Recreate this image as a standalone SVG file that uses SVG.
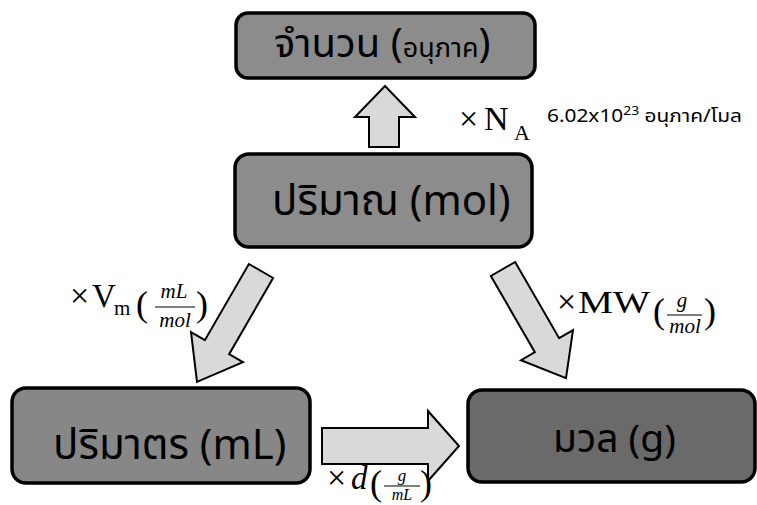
<svg xmlns="http://www.w3.org/2000/svg" width="757" height="505" viewBox="0 0 757 505">
<style>
.box{stroke:#000;stroke-width:3.5}
.arr{fill:#d9d9d9;stroke:#000;stroke-width:2;stroke-linejoin:miter}
.th{font-family:"Noto Sans Thai","Noto Sans","DejaVu Sans",sans-serif;fill:#000}
.m{font-family:"Liberation Serif","Times New Roman",serif;fill:#000}
.mi{font-family:"Liberation Serif","Times New Roman",serif;font-style:italic;fill:#000}
.x{font-family:"Liberation Serif","Times New Roman",serif;font-size:34px;fill:#000}
.p{font-family:"Liberation Serif","Times New Roman",serif;font-size:36px;fill:#000}
.fl{stroke:#000;stroke-width:1.2}
</style>
<rect width="757" height="505" fill="#fff"/>
<g id="connectors">
<polygon class="arr" points="385,86 415,117 399,117 399,147 369,147 369,117 355,117"/>
<polygon class="arr" transform="translate(261,271) rotate(120)" points="0,-14 88,-14 88,-30 128,0 88,30 88,14 0,14"/>
<polygon class="arr" transform="translate(503,269) rotate(60)" points="0,-14 88,-14 88,-30 126,0 88,30 88,14 0,14"/>
<polygon class="arr" points="322,428 428,428 428,411 459,446 428,481 428,464 322,464"/>
</g>
<g id="node-count">
<rect class="box" x="236" y="13" width="299" height="65" rx="12" fill="#8c8c8c"/>
<text class="th" x="274" y="57" font-size="40">จำนวน <tspan font-size="40">(</tspan><tspan font-size="27">อนุภาค</tspan><tspan font-size="40">)</tspan></text>
</g>
<g id="node-mol">
<rect class="box" x="235" y="154" width="297" height="93" rx="14" fill="#8c8c8c"/>
<text class="th" x="272" y="215" font-size="42">ปริมาณ (mol)</text>
</g>
<g id="node-volume">
<rect class="box" x="12" y="388" width="298" height="95" rx="14" fill="#878787"/>
<text class="th" x="53" y="459" font-size="42">ปริมาตร (mL)</text>
</g>
<g id="node-mass">
<rect class="box" x="468" y="390" width="287" height="92" rx="14" fill="#6a6a6a"/>
<text class="th" x="553" y="452" font-size="39">มวล (g)</text>
</g>
<g id="labels">
<text class="x" x="459" y="130">×</text>
<text class="m" x="484" y="130" font-size="34">N</text>
<text class="m" x="514" y="140" font-size="22">A</text>
<text class="th" x="547" y="122" font-size="18" textLength="195" lengthAdjust="spacingAndGlyphs">6.02x10<tspan font-size="12" dy="-7">23</tspan><tspan dy="7"> อนุภาค/โมล</tspan></text>

<text class="x" x="70" y="307">×</text>
<text class="m" x="92" y="307" font-size="33">V</text>
<text class="m" x="114" y="315" font-size="21">m</text>
<text class="p" x="136" y="316">(</text>
<text class="mi" x="174" y="298" font-size="21" text-anchor="middle">mL</text>
<line class="fl" x1="155" y1="307" x2="195" y2="307"/>
<text class="mi" x="175" y="327" font-size="21" text-anchor="middle">mol</text>
<text class="p" x="196" y="316">)</text>

<text class="x" x="557" y="313">×</text>
<text class="m" x="578" y="313" font-size="32" textLength="72" lengthAdjust="spacingAndGlyphs">MW</text>
<text class="p" x="653" y="323">(</text>
<text class="mi" x="682" y="307" font-size="21" text-anchor="middle">g</text>
<line class="fl" x1="667" y1="315" x2="702" y2="315"/>
<text class="mi" x="685" y="333" font-size="21" text-anchor="middle">mol</text>
<text class="p" x="704" y="323">)</text>

<text class="x" x="327" y="489">×</text>
<text class="mi" x="351" y="489" font-size="33">d</text>
<text class="p" x="370" y="495">(</text>
<text class="mi" x="402" y="481" font-size="17" text-anchor="middle">g</text>
<line class="fl" x1="384" y1="486" x2="420" y2="486"/>
<text class="mi" x="402" y="500" font-size="16" text-anchor="middle">mL</text>
<text class="p" x="420" y="495">)</text>
</g>
</svg>
